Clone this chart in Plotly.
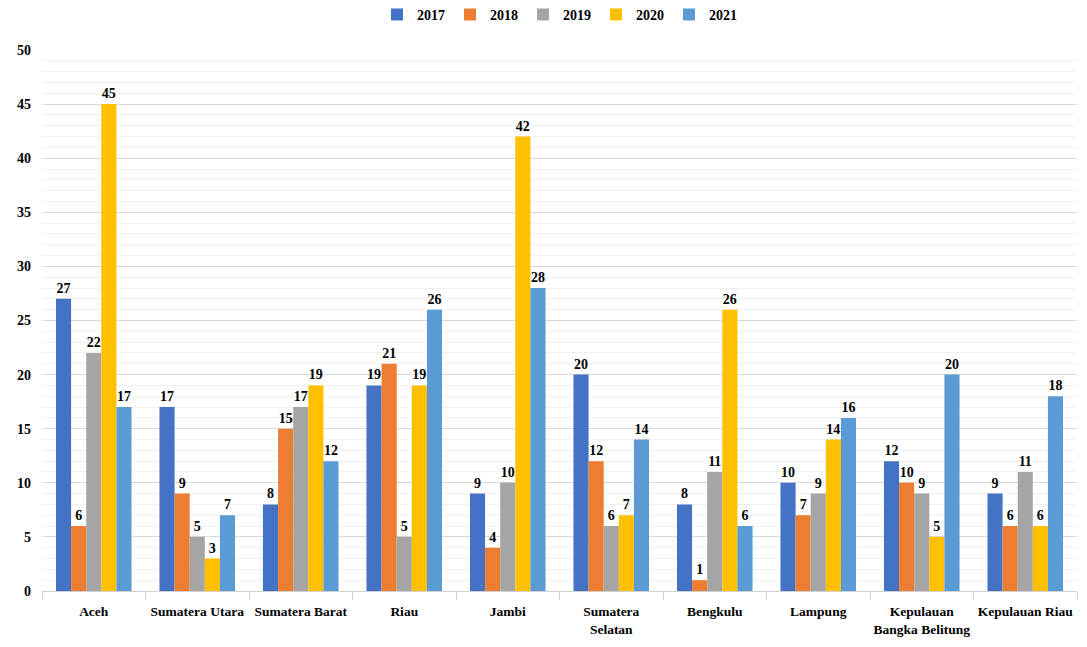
import plotly.graph_objects as go

categories = ["Aceh", "Sumatera Utara", "Sumatera Barat", "Riau", "Jambi",
              "Sumatera<br>Selatan", "Bengkulu", "Lampung",
              "Kepulauan<br>Bangka Belitung", "Kepulauan Riau"]
years = ["2017", "2018", "2019", "2020", "2021"]
v2017 = [27, 17, 8, 19, 9, 20, 8, 10, 12, 9]
v2018 = [6, 9, 15, 21, 4, 12, 1, 7, 10, 6]
v2019 = [22, 5, 17, 5, 10, 6, 11, 9, 9, 11]
v2020 = [45, 3, 19, 19, 42, 7, 26, 14, 5, 6]
v2021 = [17, 7, 12, 26, 28, 14, 6, 16, 20, 18]
colors = ["#4472C4", "#ED7D31", "#A5A5A5", "#FFC000", "#5B9BD5"]

series = [v2017, v2018, v2019, v2020, v2021]
ff = "Liberation Serif"
bfont = dict(family=ff, size=14, color="#000000", weight="bold")
xfont = dict(family=ff, size=13.5, color="#000000", weight="bold")

fig = go.Figure()
for name, vals, col in zip(years, series, colors):
    fig.add_trace(go.Bar(
        x=categories, y=vals, name=name, marker_color=col,
        marker_line_width=0,
        text=[str(v) for v in vals], textposition="outside",
        textfont=bfont,
        cliponaxis=False,
    ))

fig.update_layout(
    width=1087, height=647,
    margin=dict(l=42, r=10, t=50, b=56, autoexpand=False),
    barmode="group", bargap=0.27, bargroupgap=0,
    plot_bgcolor="white", paper_bgcolor="white",
    font=bfont,
    legend=dict(orientation="h", x=0.5, xanchor="center",
                yref="container", y=0.977, yanchor="middle",
                font=bfont, traceorder="normal"),
    xaxis=dict(showline=True, linecolor="#d0d0d0", linewidth=1,
               ticks="outside", tickson="boundaries", ticklen=8, tickcolor="#d0d0d0",
               tickfont=xfont, tickangle=0, ticklabelstandoff=8, automargin=False),
    yaxis=dict(range=[0, 50], dtick=5, showgrid=True, gridcolor="#d9d9d9", gridwidth=1,
               zeroline=False, ticks="", tickfont=bfont, ticklabelstandoff=10,
               automargin=False,
               minor=dict(dtick=1, showgrid=True, gridcolor="#f0f0f0", gridwidth=1)),
)

fig.write_html("out.html")
